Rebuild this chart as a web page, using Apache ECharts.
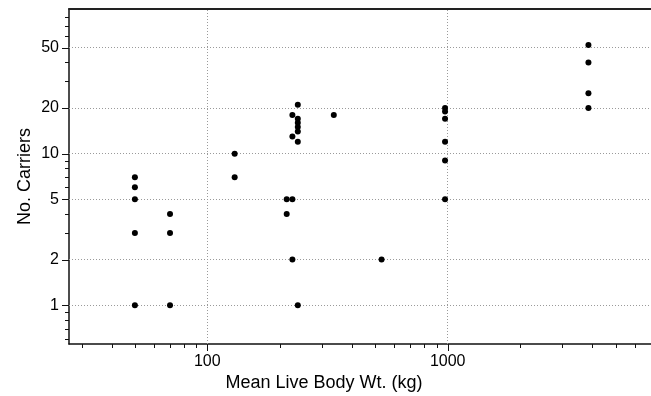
<!DOCTYPE html>
<html><head><meta charset="utf-8">
<script src="https://cdn.jsdelivr.net/npm/echarts@6/dist/echarts.min.js"></script>
<style>html,body{margin:0;padding:0;background:#fff}#c{width:651px;height:396px}</style>
</head><body><div id="c"></div>
<script>
const xTitle = 'Mean Live Body Wt. (kg)';
const yTitle = 'No. Carriers';
const bodyWt = [50,50,50,50,50, 70,70,70, 130,130, 238,226,238,238,238,238,226,238, 214,226,214,226,238, 336,531, 975,975,975,975,975,975, 3850,3850,3850,3850];
const carriers = [7,6,5,3,1, 4,3,1, 10,7, 21,18,17,16,15,14,13,12, 5,5,4,2,1, 18,2, 20,19,17,12,9,5, 52,40,25,20];
const xMajorTicks = [100,1000];
const xMinorTicks = [30,40,50,60,70,80,90,200,300,400,500,600,700,800,900,2000,3000,4000,5000,6000,7000];
const yMajorTicks = [1,2,5,10,20,50];
const yMinorTicks = [0.6,0.7,0.8,0.9,3,4,6,7,8,9,30,40,60,70,80];
const xRange = [26.6, 7010];
const yRange = [0.555, 90];

const FONT = '"Liberation Sans", Arial, Helvetica, sans-serif';
const chart = echarts.init(document.getElementById('c'), null, {renderer:'canvas'});
const axisCommon = {
  type:'log', logBase:10,
  axisTick:{show:false}, axisLabel:{show:false}, splitLine:{show:false}
};
chart.setOption({
  animation:false,
  backgroundColor:'#fff',
  grid:{left:69, right:0, top:9, bottom:52, containLabel:false},
  xAxis:[
    Object.assign({}, axisCommon, {min:xRange[0], max:xRange[1], position:'bottom',
      axisLine:{show:true, lineStyle:{color:'#111', width:1.5}}}),
    Object.assign({}, axisCommon, {min:xRange[0], max:xRange[1], position:'top',
      axisLine:{show:true, lineStyle:{color:'#222', width:2}}})
  ],
  yAxis:[
    Object.assign({}, axisCommon, {min:yRange[0], max:yRange[1], position:'left',
      axisLine:{show:true, lineStyle:{color:'#111', width:1.5}}})
  ],
  series:[{
    type:'scatter',
    xAxisIndex:0, yAxisIndex:0,
    symbol:'circle', symbolSize:6,
    itemStyle:{color:'#000', opacity:1},
    data: bodyWt.map((x,i)=>[x, carriers[i]]),
    z:5,
    markLine:{
      silent:true, symbol:['none','none'], label:{show:false},
      lineStyle:{color:'#9a9a9a', type:[1,2], width:1},
      z:1,
      data: yMajorTicks.map(v=>({yAxis:v})).concat(xMajorTicks.map(v=>({xAxis:v})))
    }
  }]
});

const px = v => chart.convertToPixel({xAxisIndex:0}, v);
const py = v => chart.convertToPixel({yAxisIndex:0}, v);
const x0 = px(xRange[0]);
const y0 = py(yRange[0]);
const g = [];
const lineStyle = {stroke:'#111', lineWidth:1};
function tickLine(x1,y1,x2,y2){ g.push({type:'line', silent:true, shape:{x1,y1,x2,y2}, style:lineStyle, z:10}); }
yMajorTicks.forEach(v=>{
  const y = Math.round(py(v))+0.5;
  tickLine(x0-7, y, x0, y);
  g.push({type:'text', silent:true, z:10, style:{text:String(v), x:x0-10, y:py(v), align:'right', verticalAlign:'middle', font:'16px '+FONT, fill:'#000'}});
});
yMinorTicks.forEach(v=>{
  if (v < yRange[0] || v > yRange[1]) return;
  const y = Math.round(py(v))+0.5;
  tickLine(x0-4, y, x0, y);
});
xMajorTicks.forEach(v=>{
  const x = Math.round(px(v))+0.5;
  tickLine(x, y0, x, y0+7);
  g.push({type:'text', silent:true, z:10, style:{text:String(v), x:px(v), y:y0+10, align:'center', verticalAlign:'top', font:'16px '+FONT, fill:'#000'}});
});
xMinorTicks.forEach(v=>{
  if (v < xRange[0] || v > xRange[1]) return;
  const x = Math.round(px(v))+0.5;
  tickLine(x, y0, x, y0+4);
});
g.push({type:'text', silent:true, z:10, style:{text:xTitle, x:324, y:383, align:'center', verticalAlign:'middle', font:'18px '+FONT, fill:'#000'}});
g.push({type:'text', silent:true, z:10, x:25, y:(py(yRange[0])+py(yRange[1]))/2, rotation:Math.PI/2,
  style:{text:yTitle, x:0, y:0, align:'center', verticalAlign:'middle', font:'18px '+FONT, fill:'#000'}});
chart.setOption({graphic:g});
</script>
</body></html>
